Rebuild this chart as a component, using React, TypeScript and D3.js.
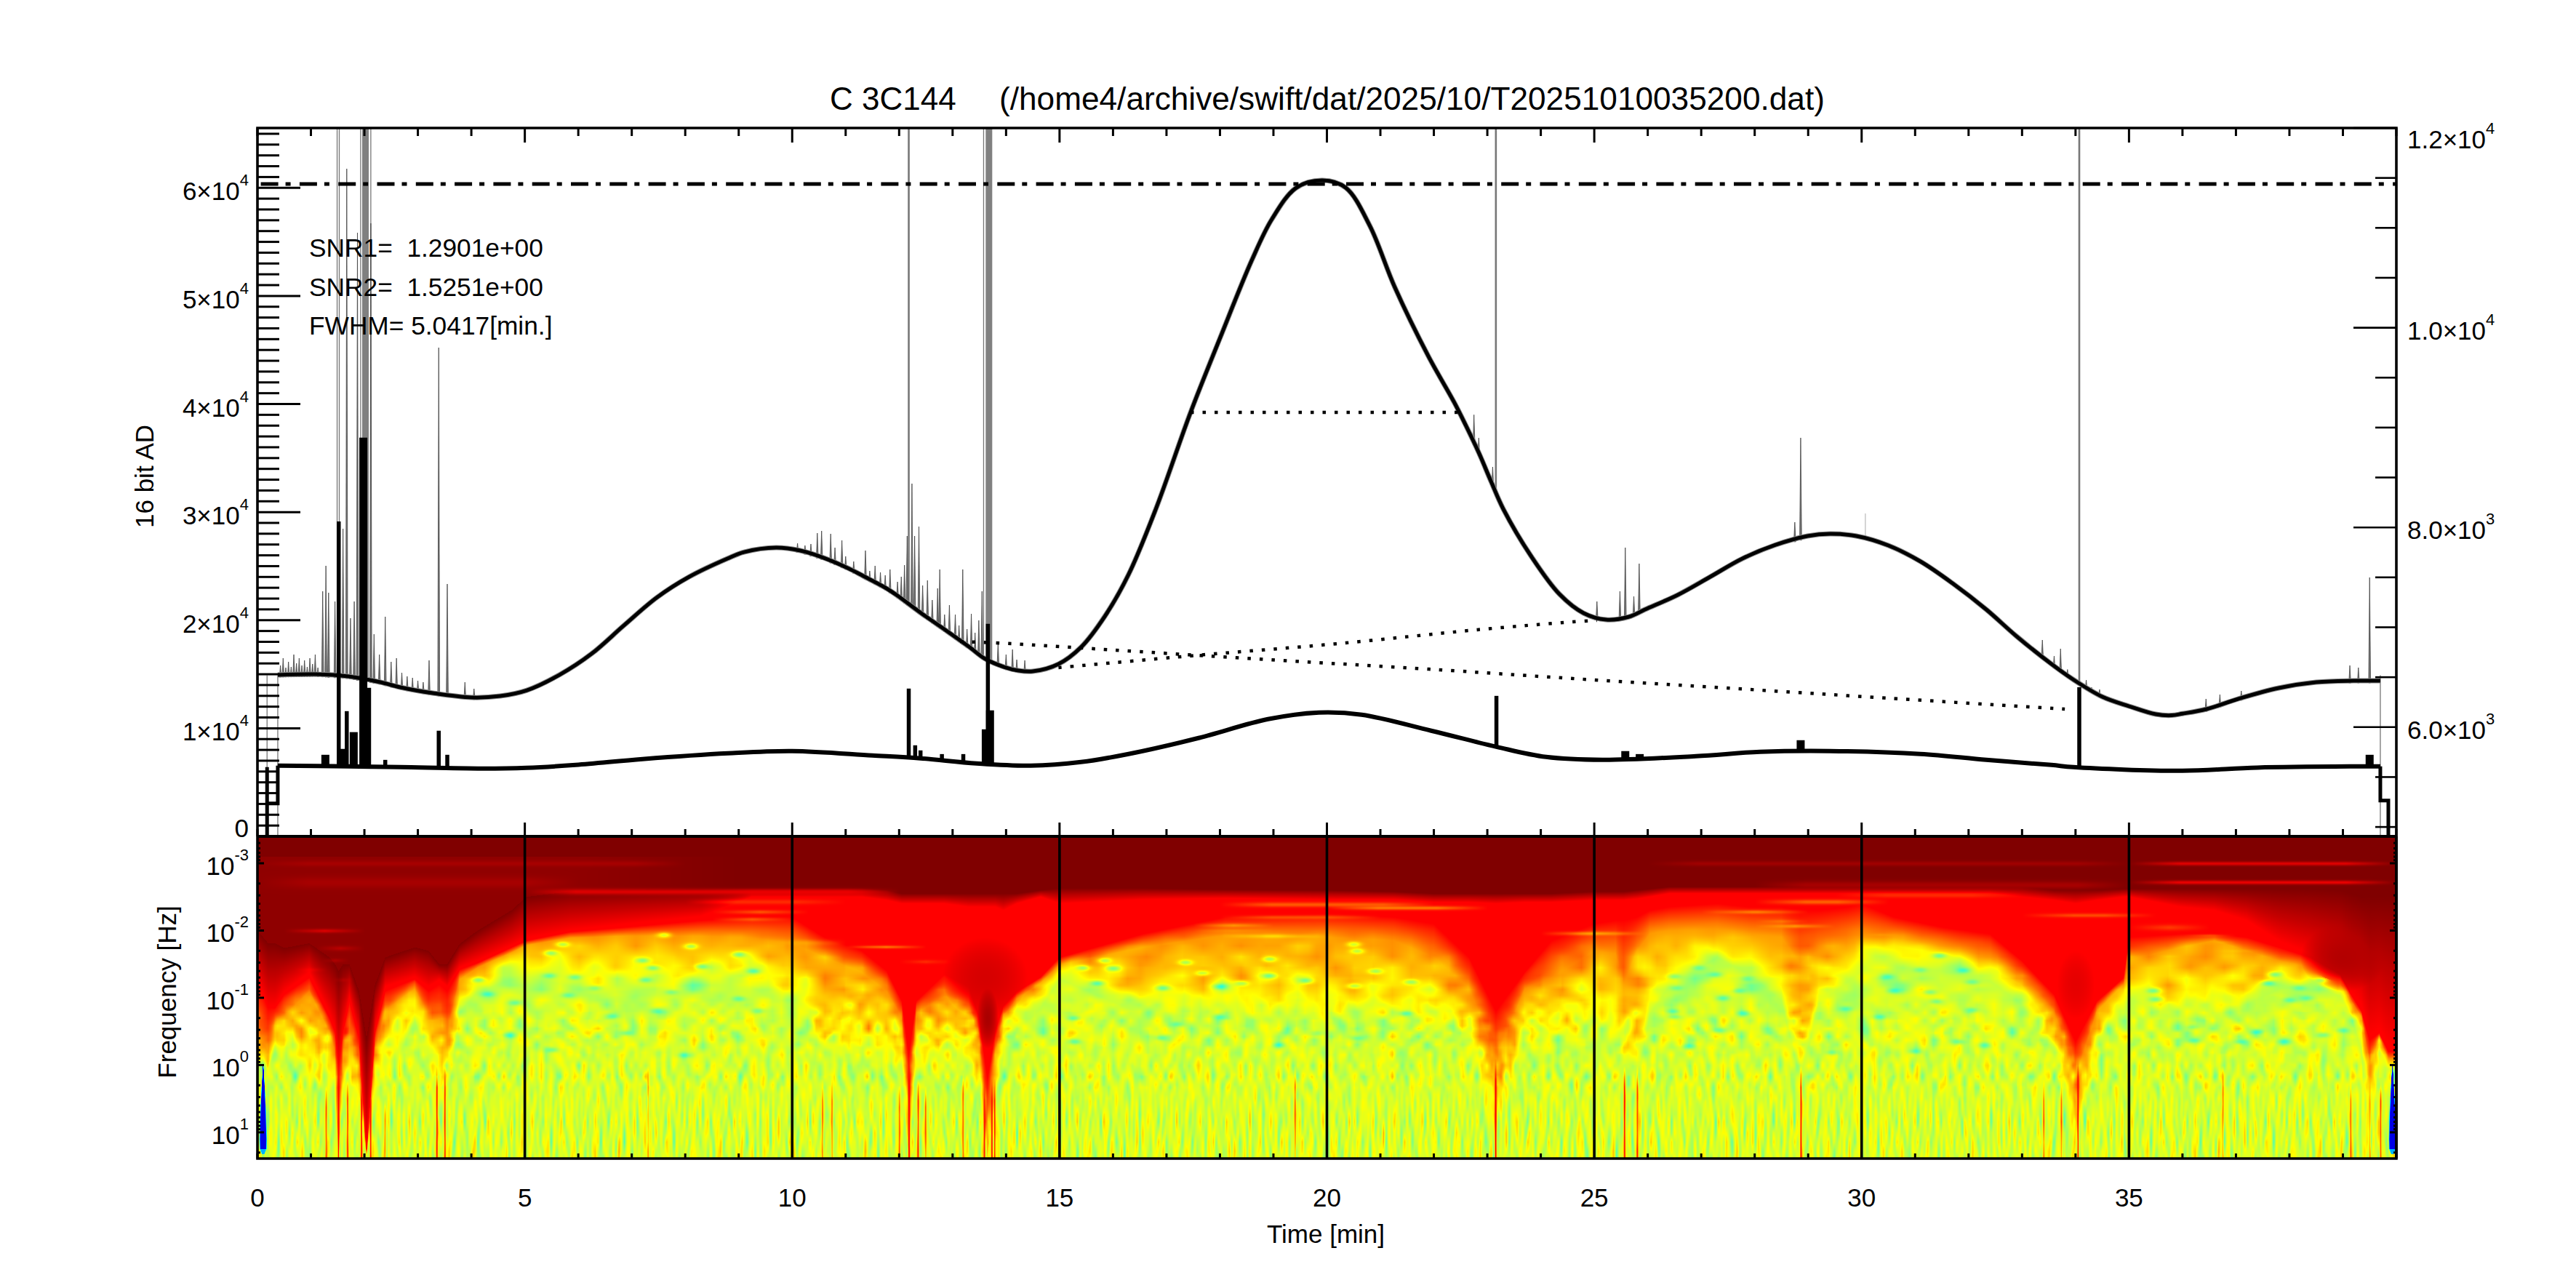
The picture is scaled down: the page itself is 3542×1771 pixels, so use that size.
import React, { useMemo } from "react";
import * as d3 from "d3";

const FONT = "'Liberation Sans', Arial, sans-serif";

// ---------- labels
const titleObject = "C 3C144";
const titlePath = "(/home4/archive/swift/dat/2025/10/T20251010035200.dat)";
const infoLines = ["SNR1=  1.2901e+00", "SNR2=  1.5251e+00", "FWHM= 5.0417[min.]"];
const timeMajors = [0, 5, 10, 15, 20, 25, 30, 35];
const leftMajors = [1, 2, 3, 4, 5, 6];
const rightLabels: [number, string, string][] = [
  [12000, "1.2×10", "4"],
  [10000, "1.0×10", "4"],
  [8000, "8.0×10", "3"],
  [6000, "6.0×10", "3"],
];
const freqExps = [-3, -2, -1, 0, 1];

// ---------- upper light curve [min, ADU]
const upperCurve: [number, number][] = [
  [0.38, 14936], [1.09, 15003], [1.7, 14800], [2.3, 14263], [2.67, 13792], [3.28, 13254], [4, 12850], [4.54, 12985],
  [5.03, 13500], [5.65, 14950], [6.25, 16900], [6.85, 19500], [7.47, 22100], [8.07, 24000], [8.79, 25700], [9.1, 26300],
  [9.7, 26710], [10.15, 26441], [10.6, 25750], [11.05, 24800], [11.33, 24086], [11.74, 23010], [11.96, 22300],
  [12.42, 20620], [12.87, 19075], [13.32, 17493], [13.6, 16449], [13.96, 15676], [14.23, 15340], [14.5, 15272],
  [14.98, 15945], [15.4, 17493], [15.85, 20386], [16.29, 24221], [16.8, 30276], [17.45, 39224], [18, 46087],
  [18.6, 53353], [18.97, 57092], [19.43, 60014], [19.92, 60687], [20.35, 60014], [20.8, 56514], [21.27, 50800],
  [21.9, 44400], [22.38, 40160], [22.6, 38000], [22.84, 35500], [23.07, 32830], [23.3, 30276], [23.84, 25768],
  [24.35, 22404], [24.8, 20655], [25.22, 20049], [25.65, 20318], [25.95, 20991], [26.56, 22337], [27.17, 24019],
  [27.77, 25700], [28.38, 26950], [28.99, 27787], [29.41, 27989], [29.9, 27787], [30.5, 26912], [31.1, 25432],
  [31.7, 23413], [32.33, 20991], [32.9, 18500], [33.55, 15945], [33.96, 14500], [34.5, 12918], [35, 12043],
  [35.5, 11300], [35.8, 11200], [36, 11350], [36.45, 11774], [37.04, 12716], [37.8, 13725], [38.5, 14263],
  [39.2, 14398], [39.7, 14398],
];

// thin spikes rising from the upper curve [min, peak ADU]
const upperSpikes: [number, number][] = [
  [0.43, 15811], [0.48, 16484], [0.53, 15609], [0.58, 16147], [0.63, 15676], [0.68, 16820], [0.73, 16013], [0.78, 16484],
  [0.83, 15811], [0.88, 16282], [0.93, 15676], [0.98, 16484], [1.03, 15945], [1.08, 16820], [1.13, 15609],
  [1.22, 22673], [1.28, 25028], [1.33, 22539], [1.45, 21731], [1.6, 28459], [1.67, 61763], [1.74, 20184], [1.81, 21731],
  [1.87, 55842], [2.12, 56717], [2.18, 18704], [2.28, 16820], [2.39, 20319], [2.5, 16147], [2.6, 16484], [2.7, 15138],
  [2.8, 14802], [2.9, 14667], [3.0, 14398], [3.1, 14263], [3.21, 16282], [3.39, 45212], [3.55, 23346], [3.88, 14263], [4.05, 13658],
  [10.1, 27114], [10.24, 26912], [10.35, 27047], [10.47, 28056], [10.55, 28258], [10.72, 27988], [10.8, 26710], [10.93, 27383],
  [11.0, 25903], [11.15, 25432], [11.37, 26441], [11.45, 24557], [11.55, 25028], [11.65, 24423], [11.74, 24154], [11.83, 24692],
  [11.97, 23548], [12.04, 24019], [12.1, 25095], [12.15, 27787], [12.24, 32631], [12.29, 27787], [12.37, 28661], [12.44, 23212],
  [12.53, 23683], [12.62, 21866], [12.72, 22942], [12.76, 24692], [12.85, 20520], [12.94, 21395], [13.05, 20520], [13.12, 19511],
  [13.19, 24692], [13.27, 19175], [13.35, 20588], [13.42, 18838], [13.49, 19982], [13.55, 22673], [13.85, 17964], [14.0, 16820],
  [14.12, 17291], [14.2, 16349], [14.35, 16282],
  [22.75, 39004], [22.84, 36860], [23.1, 34178], [25.05, 21731], [25.48, 22673], [25.58, 26710], [25.74, 22202], [25.84, 25230],
  [28.75, 29065], [28.86, 36869], [33.38, 18166], [33.6, 16685], [33.72, 17358], [33.85, 15438],
  [34.2, 14465], [34.3, 13792], [34.45, 13590], [36.44, 12716], [36.7, 13120], [37.1, 13456], [39.13, 15811], [39.29, 15609], [39.5, 23952],
];
// faint hairline spike
const faintSpikes: [number, number][] = [[30.07, 29872]];
// spikes that leave the top of the frame [min]
const clippedSpikesThin = [1.49, 1.53, 1.93, 2.12, 13.58];
const clippedSpikesMid = [12.18, 23.16, 34.07];
const clippedSpikesWide = [2.02, 13.68];
// thin grey edges at the start and end of the scan [min]
const scanEdges = [0.18, 0.38, 39.7];

// ---------- lower curve, right axis [min, ADU]
const lowerCurve: [number, number][] = [
  [0.38, 5614], [1.7, 5607], [2.67, 5599], [4.2, 5585], [5.03, 5592], [5.95, 5621], [7.2, 5680], [8.8, 5738], [10, 5760],
  [11.5, 5716], [12.4, 5687], [13.45, 5636], [14.46, 5614], [15.4, 5650], [16.29, 5731], [17.6, 5891], [18.9, 6080],
  [19.85, 6146], [20.65, 6124], [21.95, 5964], [23.17, 5803], [24.1, 5701], [25.15, 5672], [26.9, 5709], [28.1, 5752],
  [29.41, 5760], [31.1, 5731], [32.33, 5672], [33.55, 5621], [33.96, 5599], [36, 5563], [37.4, 5595], [39.2, 5607], [39.7, 5607],
];
const lowerStepLeft: [number, number][] = [[0.18, 4906], [0.18, 5599], [0.18, 5235], [0.38, 5235], [0.38, 5614]];
const lowerStepRight: [number, number][] = [[39.7, 5607], [39.7, 5264], [39.85, 5264], [39.85, 4906]];
// bursts on the lower curve [min, peak on right axis]
const lowerBurstsNarrow: [number, number][] = [
  [1.52, 8059], [1.67, 6160], [3.39, 5964], [3.55, 5723], [12.18, 6386], [13.66, 7034], [23.17, 6313], [34.07, 6400],
  [2.39, 5672], [12.3, 5818], [12.4, 5767], [12.8, 5730], [13.2, 5730],
];
const lowerBurstsWide: [number, number][] = [
  [1.27, 5723], [1.6, 5782], [1.8, 5950], [1.98, 8900], [2.05, 6393], [13.62, 5978], [13.7, 6168], [25.58, 5760], [25.85, 5730], [28.86, 5869], [39.5, 5723],
];

// ---------- dotted guides and the saturation level
const fwhmLine: [number, number][] = [[17.45, 39224], [22.49, 39224]];
const baseLineA: [number, number][] = [
  [13.14, 18031], [14.1, 17829], [15.42, 17426], [17.58, 16753], [19.83, 16080], [21.9, 15474], [24.6, 14600], [27.47, 13725], [30.5, 12783], [33.8, 11774],
];
const baseLineB: [number, number][] = [[14.98, 15609], [17.58, 16753], [20.2, 17829], [22.8, 19108], [24.6, 19848], [25.05, 19982]];
const saturationADU = 60350;

// ---------- wavelet power, read off the picture as contour heights (log10 Hz) per time knot
// columns: time, end of dark red, first full red, end of full red, orange, yellow, green
const contours: number[][] = [
  [0, -2, -1.27, -1.25, -0.45, -0.19, -0.01], [0.2, -1.81, -0.88, -0.85, -0.19, -0.01, 0.06], [0.33, -1.81, -0.88, -0.85, -0.63, -0.37, -0.19],
  [0.5, -1.74, -1.09, -1.05, -0.73, -0.48, -0.01], [0.97, -1.81, -1.38, -1.3, -1.09, -0.19, 0.28], [1.35, -1.6, -0.77, -0.7, -0.48, -0.01, 0.53],
  [1.45, -1.5, -0.55, -0.5, -0.19, 0.2, 0.71], [1.52, -1.4, -0.01, 0, 0.9, 1.37, 1.39], [1.6, -1.5, -0.55, -0.5, -0.19, 0.2, 0.71],
  [1.72, -1.5, -1.02, -0.95, -0.48, -0.01, 0.71], [1.9, -1.1, -0.45, -0.4, -0.01, 0.53, 1.07], [2.04, -0.4, 1.3, 1.32, 1.35, 1.37, 1.39],
  [2.2, -1.2, -0.55, -0.5, -0.19, 0.2, 0.71], [2.39, -1.6, -1.17, -1.1, -0.81, -0.37, 0.35], [2.94, -1.75, -1.31, -1.28, -1.13, -0.88, -0.66],
  [3.2, -1.7, -1.17, -1.1, -0.73, -0.45, -0.01], [3.4, -1.5, -1.27, -1.2, -0.66, -0.01, 0.71], [3.55, -1.5, -1.17, -1.1, -0.48, -0.01, 0.71],
  [3.78, -1.8, -1.45, -1.42, -1.27, -1.02, -0.77], [4.12, -2, -1.56, -1.52, -1.45, -1.31, -1.09], [4.75, -2.3, -1.78, -1.75, -1.67, -1.49, -1.27],
  [5.03, -2.5, -1.89, -1.85, -1.78, -1.56, -1.31], [5.85, -2.58, -2.01, -1.98, -1.89, -1.49, -1.17], [6.9, -2.6, -2.1, -2.05, -1.92, -1.45, -1.09],
  [8.28, -2.62, -2.21, -2.15, -1.92, -1.5, -1.2], [9.24, -2.63, -2.5, -2.2, -1.89, -1.53, -1.17], [10, -2.63, -2.5, -2.2, -1.81, -1.24, -0.81],
  [10.6, -2.63, -2.5, -1.9, -1.6, -0.52, 0.02], [11.3, -2.63, -2.5, -1.7, -1.38, -0.52, 0.02], [11.77, -2.6, -2.45, -1.4, -1.09, -0.45, 0.2],
  [12.05, -2.55, -2.4, -0.95, -0.7, -0.23, 0.31], [12.18, -2.55, -2.4, -0.16, 0.74, 1.36, 1.39], [12.32, -2.55, -2.4, -0.95, -0.77, -0.3, 0.38],
  [12.85, -2.55, -2.4, -1.35, -1.02, -0.4, 0.28], [13.3, -2.55, -2.35, -1.17, -0.91, -0.4, 0.38], [13.5, -2.55, -2.35, -0.7, -0.34, 0.02, 0.56],
  [13.65, -2.55, -2.35, 0.2, 1.1, 1.36, 1.39], [13.8, -2.55, -2.35, -0.52, -0.16, 0.2, 0.56], [13.95, -2.55, -2.3, -0.88, -0.73, -0.52, -0.16],
  [14.2, -2.55, -2.4, -1.09, -0.98, -0.84, -0.52], [14.65, -2.6, -2.5, -1.31, -1.22, -1.09, -0.84], [15, -2.63, -2.4, -1.6, -1.49, -1.4, -1.28],
  [16.56, -2.63, -2.46, -1.95, -1.75, -1.1, -0.75], [18.1, -2.61, -2.48, -2.2, -1.93, -1.05, -0.7], [20, -2.6, -2.46, -2.25, -1.9, -1.02, -0.62],
  [21.25, -2.58, -2.46, -2.2, -1.85, -1, -0.6], [22, -2.55, -2.42, -2.1, -1.6, -0.95, -0.45], [22.66, -2.55, -2.42, -1.6, -1.15, -0.63, -0.15],
  [23.16, -2.55, -2.4, -0.8, -0.1, 0.7, 1.37], [23.7, -2.55, -2.42, -1.38, -1.13, -0.63, -0.08], [24.2, -2.55, -2.42, -1.85, -1.3, -0.73, -0.15],
  [25, -2.58, -2.45, -2.1, -1.7, -1.02, -0.37], [25.4, -2.58, -2.45, -2.15, -1.65, -0.8, -0.2], [25.55, -2.58, -2.45, -2.15, -1.2, -0.37, 0.3],
  [25.8, -2.6, -2.47, -2.2, -1.7, -0.4, 0.3], [26.04, -2.62, -2.5, -2.3, -1.95, -1.15, -0.75], [26.4, -2.65, -2.55, -2.35, -2, -1.5, -1.17],
  [27.3, -2.65, -2.55, -2.4, -2.02, -1.72, -1.6], [27.9, -2.65, -2.55, -2.35, -1.95, -1.6, -1.35], [28.5, -2.65, -2.55, -2.35, -1.9, -1.2, -0.95],
  [28.85, -2.65, -2.55, -2.3, -1.5, -0.2, 0.2], [29.2, -2.65, -2.55, -2.3, -1.7, -1.2, -0.9], [29.75, -2.65, -2.55, -2.35, -1.85, -1.5, -1.25],
  [30, -2.65, -2.55, -2.4, -1.9, -1.7, -1.4], [30.6, -2.65, -2.55, -2.2, -1.9, -1.78, -1.45], [31.5, -2.65, -2.55, -2.05, -1.78, -1.65, -1.4],
  [32.4, -2.65, -2.55, -1.95, -1.6, -1.45, -1.25], [33, -2.65, -2.5, -1.55, -1.3, -1.18, -0.9], [33.6, -2.6, -2.45, -1.05, -0.8, -0.5, 0],
  [34, -2.6, -2.4, -0.35, 0.2, 0.9, 1.37], [34.4, -2.6, -2.45, -0.95, -0.8, -0.5, 0], [34.9, -2.62, -2.5, -1.3, -1.2, -1.05, -0.65],
  [35, -2.62, -2.5, -1.9, -1.56, -1.3, -1], [35.98, -2.62, -2.35, -1.95, -1.75, -0.95, -0.63], [36.6, -2.62, -2.3, -1.95, -1.85, -1.1, -0.73],
  [37.2, -2.62, -2.15, -1.9, -1.7, -1.2, -0.9], [37.8, -2.62, -1.85, -1.75, -1.55, -1.3, -1.13], [38.4, -2.62, -1.65, -1.6, -1.45, -1.3, -1.2],
  [38.95, -2.6, -1.4, -1.35, -1.28, -1.2, -1.02], [39.15, -2.55, -1.1, -1.05, -0.97, -0.87, -0.73], [39.35, -2.5, -0.9, -0.8, -0.7, -0.5, -0.2],
  [39.5, -2.5, -0.45, -0.37, -0.01, 0.71, 1.37], [39.68, -2.5, -0.55, -0.48, -0.37, -0.23, -0.01], [39.85, -2.5, -0.3, -0.2, -0.1, -0.01, 0.06],
  [40, -2.5, -0.3, -0.2, -0.1, -0.01, 0.06],
];
// colour level reached at each contour above (jet position 0..1)
const contourLevels = [1, 0.875, 0.875, 0.72, 0.63, 0.56];

// horizontal ridges: log10 Hz, half thickness, from min, to min, jet level
const ridges: number[][] = [
  [-3, 0.03, 0, 8, 0.955], [-3, 0.025, 26, 35, 0.96], [-3, 0.02, 35, 40, 0.875], [-2.72, 0.06, 0, 6, 0.955], [-2.72, 0.02, 35, 40, 0.86],
  [-2.68, 0.04, 28, 35, 0.95], [-2.58, 0.03, 5, 12, 0.88], [-2.53, 0.025, 29.5, 33, 0.82], [-2.43, 0.025, 8, 11, 0.82], [-2.28, 0.02, 8.5, 10.3, 0.76],
  [-2.17, 0.02, 8.5, 10, 0.74], [-2, 0.02, 0.5, 2, 0.86], [-1.74, 0.025, 1.1, 2, 0.87], [-1.56, 0.02, 1.2, 1.7, 0.84], [-1.42, 0.02, 0.7, 1.3, 0.84],
  [-1.27, 0.02, 1.4, 1.8, 0.85], [-1.82, 0.03, 9, 11, 0.7], [-1.76, 0.015, 11, 12.5, 0.66], [-1.6, 0.02, 10, 11, 0.7], [-1.54, 0.02, 12, 13, 0.78],
  [-2.39, 0.025, 18, 22, 0.76], [-2.34, 0.02, 20, 23, 0.72], [-2.2, 0.02, 18, 21, 0.78], [-2.08, 0.02, 17.5, 19, 0.68], [-2, 0.02, 17.5, 19, 0.72],
  [-1.92, 0.02, 18, 20, 0.65], [-1.96, 0.02, 24, 26, 0.68], [-2.43, 0.025, 28, 30.5, 0.75], [-2.28, 0.02, 27, 29, 0.72], [-2.14, 0.02, 28, 29, 0.7],
  [-2.07, 0.02, 28, 29.5, 0.67], [-2, 0.03, 25.8, 27, 0.76], [-1.94, 0.015, 30, 30.7, 0.68], [-1.89, 0.02, 27, 28, 0.68], [-1.73, 0.02, 26.8, 27.5, 0.63],
  [-2.23, 0.02, 33, 35.5, 0.78], [-2.05, 0.03, 35, 36.5, 0.78], [-1.93, 0.015, 36, 37, 0.76], [-1.83, 0.015, 36.5, 37, 0.66], [-1.7, 0.015, 36.5, 37.5, 0.68],
  [-1.62, 0.015, 35.5, 36, 0.65],
];
// dark patches inside the cones: min, log10 Hz, radius min, radius log10 Hz, jet level
const darkPatches: number[][] = [
  [13.6, -1.3, 0.8, 0.6, 0.915], [13.65, -0.7, 0.2, 0.45, 0.96], [34, -1.2, 0.35, 0.5, 0.9], [39, -1.6, 0.8, 0.5, 0.95],
];
// bright vertical streaks: min, starting log10 Hz, jet level
const streaks: number[][] = [
  [1.28, 0.3, 0.76], [1.51, 0, 0.87], [1.68, 0.2, 0.8], [1.94, 0.2, 0.87], [2.11, 0.2, 0.85], [2.38, 0.5, 0.74], [3.35, 0, 0.84], [3.5, 0, 0.82],
  [7.3, 0, 0.72], [10.56, 0.2, 0.74], [10.74, 0.2, 0.74], [12, 0.3, 0.78], [12.18, -0.1, 0.88], [12.35, 0.2, 0.8], [12.49, 0.3, 0.76], [13.19, 0.1, 0.76],
  [13.59, 0.2, 0.84], [13.73, 0.2, 0.87], [13.78, 0.2, 0.84], [19.4, 0, 0.74], [23.15, -0.1, 0.88], [25.56, 0, 0.84], [25.8, 0, 0.78], [28.86, 0, 0.84],
  [33.4, 0.2, 0.74], [33.73, 0.2, 0.74], [34.04, -0.1, 0.87], [36.75, 0, 0.72], [39.14, 0.2, 0.74], [39.5, 0.2, 0.76], [39.7, 0.2, 0.78],
];
// cool pockets in the domes: min, log10 Hz
const coolSpots: number[][] = [
  [4.13, -1.27], [5.45, -1.33], [5.93, -1.31], [7.2, -1.56], [7.39, -1.45], [7.25, -1.27], [8.3, -1.47], [9.27, -1.4], [9, -1.65], [7.6, -1.94], [8.1, -1.77],
  [5.48, -1.67], [5.7, -1.8], [5.8, -1.04], [4.3, -1.06], [7.46, -0.81], [6.63, -0.73], [7.74, -1.09], [9.37, -0.81], [9, -0.99], [6.31, -1.15], [4.82, -0.93],
  [5.5, -0.23], [6.9, -0.48], [8, -0.15], [4.7, -0.45], [15.44, -1.45], [16, -1.44], [15.83, -1.56], [17.35, -1.53], [17.67, -1.37], [18.92, -1.58],
  [18.92, -1.33], [19.6, -1.26], [15.7, -1.22], [16.93, -1.15], [18, -1.17], [18.4, -1.22], [20.5, -1.8], [20.56, -1.7], [20.5, -1.18], [21.57, -1.24],
  [20.9, -1.4], [15.28, -0.7], [18, -0.72], [17.2, -0.61], [19.8, -0.48], [15.28, -0.35], [16.9, -0.41], [19.1, -0.3], [20.56, -0.41], [21.46, -0.77],
  [26.95, -1.45], [27.26, -1.35], [26.5, -1.32], [27.87, -1.29], [26.53, -1.15], [27.7, -1.11], [27.4, -1], [26.47, -0.8], [26.5, -0.72], [27.8, -0.77],
  [27.35, -0.52], [26.77, -0.28], [29.45, -0.19], [29.7, -0.84], [30.48, -1.32], [31.09, -1.42], [31.9, -1.41], [32.06, -1.24], [30.6, -1.11], [31.27, -1.09],
  [30.33, -0.72], [31.4, -0.95], [31.8, -0.35], [31, -0.21], [32.3, -0.3], [32.06, -0.82], [31.45, -1.63], [37.72, -1.35], [37.6, -1.22], [38.6, -1.27],
  [38.18, -1.15], [38, -0.97], [38.31, -1], [35.46, -1.11], [35.5, -0.98], [36.18, -0.57], [36.2, -0.37], [37.09, -0.35], [37.9, -0.35], [38.63, -0.45],
  [37.4, -0.5], [39, -0.52],
];
// blue edge artefacts: log10 Hz, half width in min
const edgeWedge: number[][] = [[0, 0.005], [0.35, 0.03], [0.7, 0.05], [1.1, 0.065], [1.25, 0.06], [1.33, 0.02]];
const edgeWedgeCentres = [0.1, 39.92];
// hand-typed estimate of the fine speckle seen in the zooms, digits index speckleDelta
const speckleA = [
  "57463825649371652846375918264735168427593641726", "64582937165482736591847263958174625394817263549",
  "75391648275936418265739184627359164827361958246", "48263759184637295816473926581743628591746382951",
  "69174582639174825936147285936471825963174285936", "52846371958246739185627493816574293681547392861",
  "73958264817395264718593642817539462817359461728", "46182759364817295638174926385719462835971648257",
  "85374916285739146827593618427396581746293851647", "61948372615948273564819372658491736259481736259",
  "37582946173859264173958264739185264937185264731", "94627183594627381956274836195728364195728461937",
];
const speckleB = [
  "6284715936284751936247185", "3917462851739462857194638", "8152693748261593746285197", "4769281536947281563972841",
  "2538174962583719462681537", "7196382547169385247913862", "5841927365482917364528179",
];
const speckleDelta = [-0.14, -0.09, -0.05, -0.02, 0, 0.01, 0.02, 0.03, 0.05, 0.08];
const jetStops = [0, 0.125, 0.375, 0.625, 0.875, 1];
const jetColours = ["#000080", "#0000ff", "#00ffff", "#ffff00", "#ff0000", "#800000"];

// ---------- scales
const X0 = 354, X1 = 3295, Y0 = 176, Y1 = 1150, S0 = 1150, S1 = 1593;
const xS = d3.scaleLinear().domain([0, 40]).range([X0, X1]);
const yL = d3.scaleLinear().domain([0, 65535]).range([Y1, Y0]);
const yR = d3.scaleLinear().domain([4906, 12000]).range([Y1, Y0]);
const fS = d3.scaleLog().domain([Math.pow(10, -3.4), Math.pow(10, 1.39)]).range([S0, S1]);

const tileSampler = (tile: string[]) => {
  const rows = tile.length, cols = tile[0].length;
  const vals = tile.map((r) => Array.from(r).map((c) => speckleDelta[+c]));
  return (u: number, v: number) => {
    const fu = Math.floor(u), fv = Math.floor(v);
    const a = u - fu, b = v - fv;
    const c0 = ((fu % cols) + cols) % cols, c1 = (c0 + 1) % cols;
    const r0 = ((fv % rows) + rows) % rows, r1 = (r0 + 1) % rows;
    return (vals[r0][c0] * (1 - a) + vals[r0][c1] * a) * (1 - b) + (vals[r1][c0] * (1 - a) + vals[r1][c1] * a) * b;
  };
};

function renderWavelet(): string {
  const W = X1 - X0, H = S1 - S0;
  const C = new Float32Array(W * H);
  const tAt = (px: number) => xS.invert(X0 + px + 0.5);
  const eAt = (py: number) => Math.log10(fS.invert(S0 + py + 0.5));
  const pxOf = (t: number) => xS(t) - X0;
  const pyOf = (e: number) => fS(Math.pow(10, e)) - S0;
  const es = new Float32Array(H);
  for (let j = 0; j < H; j++) es[j] = eAt(j);
  const tKnots = contours.map((r) => r[0]);
  const stop = new Array(6).fill(0);
  const nS = contourLevels.length;
  for (let i = 0; i < W; i++) {
    const t = tAt(i);
    let k = d3.bisectRight(tKnots, t) - 1;
    k = Math.max(0, Math.min(tKnots.length - 2, k));
    const f = Math.max(0, Math.min(1, (t - tKnots[k]) / (tKnots[k + 1] - tKnots[k])));
    for (let s = 0; s < nS; s++) stop[s] = contours[k][s + 1] * (1 - f) + contours[k + 1][s + 1] * f;
    const topC = t < 6 ? 0.985 : t < 9 ? 0.985 + ((t - 6) / 3) * 0.015 : 1;
    for (let j = 0; j < H; j++) {
      const e = es[j];
      let c: number;
      if (e <= stop[0]) c = e < -3.1 ? 1 : topC;
      else if (e >= stop[nS - 1]) c = contourLevels[nS - 1] + Math.min(0.02, (e - stop[nS - 1]) * 0.05);
      else {
        c = contourLevels[nS - 1];
        for (let s = 0; s < nS - 1; s++) {
          if (e < stop[s + 1]) {
            const d = stop[s + 1] - stop[s];
            c = d <= 0 ? contourLevels[s + 1] : contourLevels[s] + ((contourLevels[s + 1] - contourLevels[s]) * (e - stop[s])) / d;
            break;
          }
        }
      }
      C[j * W + i] = c;
    }
  }
  const paint = (px0: number, px1: number, py0: number, py1: number, fn: (i: number, j: number, c: number) => number) => {
    const a = Math.max(0, Math.floor(px0)), b = Math.min(W, Math.ceil(px1));
    const p = Math.max(0, Math.floor(py0)), q = Math.min(H, Math.ceil(py1));
    for (let j = p; j < q; j++) for (let i = a; i < b; i++) C[j * W + i] = fn(i, j, C[j * W + i]);
  };
  for (const [e, h, t0, t1, lvl] of ridges) {
    const y = pyOf(e), sy = Math.abs(pyOf(e + h) - y);
    const xa = pxOf(t0), xb = pxOf(t1), edge = 70;
    paint(xa, xb, y - 4 * sy, y + 4 * sy, (i, j, c) => {
      if (lvl >= c) return c;
      const taper = Math.min(1, (i - xa) / edge, (xb - i) / edge);
      const w = 0.75 * Math.exp(-0.5 * ((j - y) / sy) ** 2) * Math.max(0, taper);
      return c + (lvl - c) * w;
    });
  }
  for (const [t, e, rt, re, lvl] of darkPatches) {
    const x = pxOf(t), y = pyOf(e), sx = Math.abs(pxOf(t + rt) - x), sy = Math.abs(pyOf(e + re) - y);
    paint(x - sx, x + sx, y - sy, y + sy, (i, j, c) => {
      const d = ((i - x) / sx) ** 2 + ((j - y) / sy) ** 2;
      const w = Math.max(0, 1 - d);
      return lvl > c ? c + (lvl - c) * w : c;
    });
  }
  for (const [t, e0, lvl] of streaks) {
    const x = pxOf(t), y0 = pyOf(e0);
    paint(x - 4, x + 4, y0, H, (i, j, c) => {
      if (lvl <= c) return c;
      const w = Math.exp(-0.5 * ((i - x) / 0.9) ** 2) * Math.min(1, (j - y0) / 30);
      return c + (lvl - c) * w;
    });
  }
  for (const [t, e] of coolSpots) {
    const x = pxOf(t), y = pyOf(e);
    paint(x - 24, x + 24, y - 10, y + 10, (i, j, c) => {
      if (c > 0.8) return c;
      const w = Math.exp(-0.5 * (((i - x) / 6.5) ** 2 + ((j - y) / 2.6) ** 2));
      const target = Math.max(0.47, c - 0.14);
      return c + (target - c) * w;
    });
  }
  const sA = tileSampler(speckleA), sB = tileSampler(speckleB);
  const octaves = [
    { from: -2.1, peak: -1.2, to: -0.6, w: 26, h: 15, amp: 0.85 },
    { from: -1.1, peak: -0.5, to: 0.1, w: 12, h: 11, amp: 1.05 },
    { from: -0.4, peak: 0.2, to: 0.7, w: 6.5, h: 15, amp: 1 },
    { from: 0.2, peak: 0.85, to: 9, w: 3.6, h: 28, amp: 1 },
  ];
  for (let j = 0; j < H; j++) {
    const e = es[j];
    for (const o of octaves) {
      let wt = 0;
      if (e > o.from && e <= o.peak) wt = (e - o.from) / (o.peak - o.from);
      else if (e > o.peak && e < o.to) wt = o.to === 9 ? 1 : (o.to - e) / (o.to - o.peak);
      if (wt <= 0) continue;
      wt *= o.amp;
      const v = j / o.h;
      for (let i = 0; i < W; i++) {
        const c = C[j * W + i];
        const amp = Math.max(0, Math.min(1, (0.86 - c) / 0.1));
        if (amp <= 0) continue;
        const u = i / o.w;
        C[j * W + i] = c + wt * amp * (sA(u, v) + 0.65 * sB(u * 0.9 + 3, v * 1.1 + 2));
      }
    }
  }
  const wedgeE = edgeWedge.map((r) => r[0]), wedgeW = edgeWedge.map((r) => r[1]);
  const wedgeFn = d3.scaleLinear().domain(wedgeE).range(wedgeW).clamp(true);
  for (const ct of edgeWedgeCentres) {
    const x = pxOf(ct);
    for (let j = 0; j < H; j++) {
      const e = es[j];
      if (e < wedgeE[0] || e > wedgeE[wedgeE.length - 1]) continue;
      const hw = (wedgeFn(e) as number) * 73.5;
      const p0 = Math.floor(x - hw - 2), p1 = Math.ceil(x + hw + 2);
      for (let i = Math.max(0, p0); i < Math.min(W, p1); i++) {
        const d = Math.abs(i - x) / Math.max(hw, 0.5);
        const lvl = e > 1.25 ? 0.3 : 0.1;
        const w = d < 0.8 ? 1 : Math.max(0, 1 - (d - 0.8) / 0.4);
        C[j * W + i] = C[j * W + i] + (lvl - C[j * W + i]) * w;
      }
    }
  }
  const jet = d3.scaleLinear<string>().domain(jetStops).range(jetColours).interpolate(d3.interpolateRgb).clamp(true);
  const lut = new Uint8Array(1025 * 3);
  for (let k = 0; k <= 1024; k++) {
    const c = d3.rgb(jet(k / 1024));
    lut[k * 3] = c.r; lut[k * 3 + 1] = c.g; lut[k * 3 + 2] = c.b;
  }
  const cv = document.createElement("canvas");
  cv.width = W; cv.height = H;
  const ctx = cv.getContext("2d")!;
  const img = ctx.createImageData(W, H);
  for (let n = 0; n < W * H; n++) {
    const k = Math.max(0, Math.min(1024, Math.round(C[n] * 1024)));
    img.data[n * 4] = lut[k * 3];
    img.data[n * 4 + 1] = lut[k * 3 + 1];
    img.data[n * 4 + 2] = lut[k * 3 + 2];
    img.data[n * 4 + 3] = 255;
  }
  ctx.putImageData(img, 0, 0);
  return cv.toDataURL("image/png");
}

const lineL = d3.line<[number, number]>().x((d) => xS(d[0])).y((d) => yL(d[1]));
const smoothL = d3.line<[number, number]>().x((d) => xS(d[0])).y((d) => yL(d[1])).curve(d3.curveCatmullRom.alpha(0.5));
const lineR = d3.line<[number, number]>().x((d) => xS(d[0])).y((d) => yR(d[1]));
const smoothR = d3.line<[number, number]>().x((d) => xS(d[0])).y((d) => yR(d[1])).curve(d3.curveCatmullRom.alpha(0.5));
const upperAt = d3.scaleLinear().domain(upperCurve.map((d) => d[0])).range(upperCurve.map((d) => d[1]));
const lowerAt = d3.scaleLinear().domain(lowerCurve.map((d) => d[0])).range(lowerCurve.map((d) => d[1]));
const K = "#000";
const TICKFONT = 35;
const DOTS = "4.5 12";

const Sup = ({ x, y, base, sup, anchor = "end" }: any) => (
  <text x={x} y={y} textAnchor={anchor} fontSize={TICKFONT} fontFamily={FONT} fill={K}>
    {base}
    <tspan dy={-20} fontSize={22}>{sup}</tspan>
  </text>
);

export default function App() {
  const wavelet = useMemo(() => renderWavelet(), []);
  const minutes = d3.range(0, 41);
  const leftTicks = d3.range(0, 66000, 1000);
  const rightTicks = d3.range(5000, 12001, 500);
  const freqTicks: { v: number; major: boolean }[] = [];
  for (let p = -4; p <= 1; p++) for (let m = 1; m < 10; m++) {
    const v = m * Math.pow(10, p);
    if (v >= Math.pow(10, -3.4) && v <= Math.pow(10, 1.39)) freqTicks.push({ v, major: m === 1 });
  }
  return (
    <svg width={3542} height={1771} viewBox="0 0 3542 1771" style={{ position: "absolute", left: 0, top: 0, display: "block", background: "#fff" }}>
      <defs>
        <clipPath id="mainClip"><rect x={X0} y={Y0} width={X1 - X0} height={Y1 - Y0} /></clipPath>
      </defs>
      <rect width={3542} height={1771} fill="#fff" />
      <text x={1141} y={151} fontSize={44} fontFamily={FONT} fill={K}>{titleObject}</text>
      <text x={1374} y={151} fontSize={44.2} fontFamily={FONT} fill={K}>{titlePath}</text>

      <g clipPath="url(#mainClip)">
        {scanEdges.map((t) => (
          <line key={t} x1={xS(t)} x2={xS(t)} y1={yL(14900)} y2={Y1} stroke="#888" strokeWidth={1.5} />
        ))}
        {clippedSpikesWide.map((t) => (
          <line key={t} x1={xS(t)} x2={xS(t)} y1={Y0} y2={yL(upperAt(t))} stroke="#808080" strokeWidth={9} />
        ))}
        {clippedSpikesMid.map((t) => (
          <line key={t} x1={xS(t)} x2={xS(t)} y1={Y0} y2={yL(upperAt(t))} stroke="#777" strokeWidth={2.6} />
        ))}
        {clippedSpikesThin.map((t) => (
          <line key={t} x1={xS(t)} x2={xS(t)} y1={Y0} y2={yL(upperAt(t))} stroke="#777" strokeWidth={1.3} />
        ))}
        {upperSpikes.map(([t, v], i) => {
          const base = upperAt(t);
          return (
            <path
              key={i}
              d={`M${xS(t - 0.018)},${yL(base) + 3}L${xS(t)},${yL(v)}L${xS(t + 0.018)},${yL(base) + 3}Z`}
              fill="#777" stroke="#444" strokeWidth={0.8}
            />
          );
        })}
        {faintSpikes.map(([t, v], i) => (
          <line key={i} x1={xS(t)} x2={xS(t)} y1={yL(v)} y2={yL(upperAt(t))} stroke="#aaa" strokeWidth={1} />
        ))}
        <path d={smoothL(upperCurve)!} fill="none" stroke="#888" strokeWidth={7} />
        <path d={smoothL(upperCurve)!} fill="none" stroke={K} strokeWidth={5} />
        <path d={lineL(fwhmLine)!} fill="none" stroke={K} strokeWidth={4.5} strokeDasharray={DOTS} />
        <path d={smoothL(baseLineA)!} fill="none" stroke={K} strokeWidth={4.5} strokeDasharray={DOTS} />
        <path d={smoothL(baseLineB)!} fill="none" stroke={K} strokeWidth={4.5} strokeDasharray={DOTS} />
        <line x1={X0} x2={X1} y1={yL(saturationADU)} y2={yL(saturationADU)} stroke={K} strokeWidth={5} strokeDasharray="24 10 7 12.3" strokeDashoffset={48.7} />
        {lowerBurstsWide.map(([t, v], i) => (
          <line key={i} x1={xS(t)} x2={xS(t)} y1={yR(v)} y2={yR(lowerAt(t))} stroke={K} strokeWidth={11} />
        ))}
        {lowerBurstsNarrow.map(([t, v], i) => (
          <line key={i} x1={xS(t)} x2={xS(t)} y1={yR(v)} y2={yR(lowerAt(t))} stroke={K} strokeWidth={5.5} />
        ))}
        <path d={smoothR(lowerCurve)!} fill="none" stroke={K} strokeWidth={6} />
        <path d={lineR(lowerStepLeft)!} fill="none" stroke={K} strokeWidth={5} />
        <path d={lineR(lowerStepRight)!} fill="none" stroke={K} strokeWidth={5} />
      </g>

      <image href={wavelet} x={X0} y={S0} width={X1 - X0} height={S1 - S0} preserveAspectRatio="none" />

      {minutes.map((t) => {
        const major = t % 5 === 0 && t > 0 && t < 40;
        const x = xS(t);
        return (
          <g key={t} stroke={K}>
            <line x1={x} x2={x} y1={Y0} y2={Y0 + (major ? 20 : 11)} strokeWidth={3} />
            <line x1={x} x2={x} y1={Y1} y2={Y1 - (major ? 19 : 10)} strokeWidth={3} />
            {major ? (
              <line x1={x} x2={x} y1={Y1} y2={S1} strokeWidth={3.6} />
            ) : (
              <line x1={x} x2={x} y1={S1} y2={S1 - 7} strokeWidth={3} />
            )}
          </g>
        );
      })}
      {leftTicks.map((v) => (
        <line key={v} x1={X0} x2={X0 + (v % 10000 === 0 ? 59 : 30)} y1={yL(v)} y2={yL(v)} stroke={K} strokeWidth={3} />
      ))}
      {rightTicks.map((v) => (
        <line key={v} x1={X1} x2={X1 - (v % 2000 === 0 ? 59 : 29)} y1={yR(v)} y2={yR(v)} stroke={K} strokeWidth={2.6} />
      ))}
      {freqTicks.map(({ v, major }) => (
        <g key={v} stroke={K}>
          <line x1={X0} x2={X0 + (major ? 9 : 4)} y1={fS(v)} y2={fS(v)} strokeWidth={3} />
          <line x1={X1} x2={X1 - (major ? 9 : 4)} y1={fS(v)} y2={fS(v)} strokeWidth={3} />
        </g>
      ))}
      <g fill="none" stroke={K}>
        <path d={`M${X0},${Y1}V${Y0}H${X1}V${S1}`} strokeWidth={3.6} />
        <path d={`M${X0},${S0}V${S1}H${X1}V${S0}`} strokeWidth={3.6} />
        <line x1={X0} x2={X1} y1={S0} y2={S0} strokeWidth={4} />
      </g>

      {infoLines.map((s, i) => (
        <text key={s} x={425} y={353 + i * 53.5} fontSize={35.3} fontFamily={FONT} fill={K} style={{ whiteSpace: "pre" }}>{s}</text>
      ))}

      {leftMajors.map((m) => (
        <Sup key={m} x={342} y={yL(m * 10000) + 17} base={`${m}×10`} sup="4" />
      ))}
      <text x={342} y={Y1 + 1} textAnchor="end" fontSize={TICKFONT} fontFamily={FONT} fill={K}>0</text>
      {rightLabels.map(([v, b, s]) => (
        <Sup key={v} x={3310} y={v === 12000 ? 204 : yR(v) + 16} base={b} sup={s} anchor="start" />
      ))}
      {freqExps.map((e) => (
        <Sup key={e} x={342} y={fS(Math.pow(10, e)) + 16} base="10" sup={String(e)} />
      ))}
      {timeMajors.map((t) => (
        <text key={t} x={xS(t)} y={1659} textAnchor="middle" fontSize={TICKFONT} fontFamily={FONT} fill={K}>{t}</text>
      ))}
      <text x={1823} y={1709} textAnchor="middle" fontSize={TICKFONT} fontFamily={FONT} fill={K}>Time [min]</text>
      <text transform="translate(211,655) rotate(-90)" textAnchor="middle" fontSize={TICKFONT} fontFamily={FONT} fill={K}>16 bit AD</text>
      <text transform="translate(242,1364) rotate(-90)" textAnchor="middle" fontSize={TICKFONT} fontFamily={FONT} fill={K}>Frequency [Hz]</text>
    </svg>
  );
}
